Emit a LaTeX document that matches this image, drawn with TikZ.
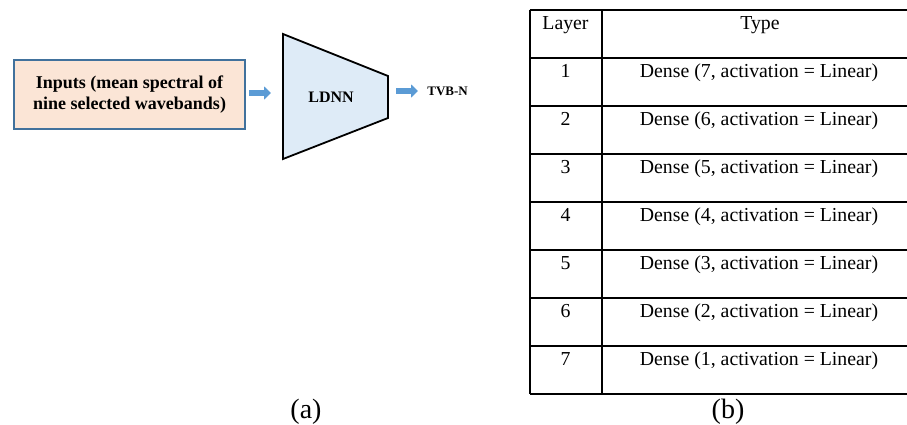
\documentclass[tikz,border=0pt]{standalone}
\usepackage{fontspec}
\setmainfont{Liberation Serif}
\usetikzlibrary{arrows.meta}
\definecolor{inpfill}{HTML}{FBE5D6}
\definecolor{inpdraw}{HTML}{41719C}
\definecolor{netfill}{HTML}{DEEBF7}
\definecolor{arrowblue}{HTML}{5B9BD5}
\tikzset{
  inpbox/.style={draw=inpdraw,fill=inpfill,line width=1pt,minimum width=115.5pt,
    minimum height=34.5pt,align=center,font=\fontsize{9}{10.5}\selectfont\bfseries},
  blockarrow/.style={arrowblue,line width=3pt,-{Triangle[length=3.5pt,width=6.5pt]}},
  tabline/.style={line width=1pt},
  cell/.style={anchor=base,font=\fontsize{9.9}{12}\selectfont,inner sep=0pt}
}
\begin{document}
\begin{tikzpicture}[x=0.5pt,y=-0.5pt]
\useasboundingbox (0,0) rectangle (907,424);
\node[inpbox] (inp) at (129.5,94.5) {Inputs (mean spectral of\\nine selected wavebands)};
\draw[fill=netfill,line width=0.9pt] (283,34) -- (388,76) -- (388,118) -- (283,159) -- cycle;
\coordinate (trapW) at (283,93);
\coordinate (trapE) at (388,91);
\node[font=\fontsize{8}{9}\selectfont\bfseries] (ldnn) at (331,97) {LDNN};
\node[anchor=west,inner sep=0pt,font=\fontsize{6.5}{8}\selectfont\bfseries] (tvb) at (427,91) {TVB-N};
\draw[blockarrow,shorten <=1.5pt,shorten >=6pt] (inp.east |- trapW) -- (trapW);
\draw[blockarrow,shorten <=4pt,shorten >=4.5pt] (trapE) -- (tvb.west);
\foreach \y in {10,58,...,394}
  \draw[tabline] (529.5,\y) -- (907,\y);
\draw[tabline] (529.5,10) -- (529.5,394);
\draw[tabline] (601.5,10) -- (601.5,394);
\node[cell] (layer0) at (565.5,29) {Layer};
\node[cell] (type0) at (760,29) {Type};
\foreach \i [evaluate=\i as \y using 29+48*\i, evaluate=\i as \u using int(8-\i)] in {1,...,7} {
  \node[cell] (layer\i) at (565.5,\y) {\i};
  \node[cell] (type\i) at (759,\y) {Dense (\u, activation = Linear)};
}
\node[font=\fontsize{14}{16}\selectfont] (capa) at (306,412) {(a)};
\node[font=\fontsize{14}{16}\selectfont] (capb) at (728,412) {(b)};
\end{tikzpicture}
\end{document}
